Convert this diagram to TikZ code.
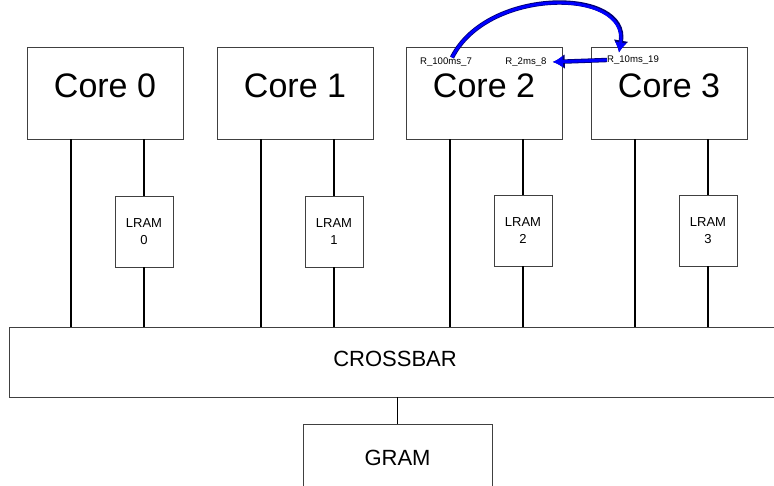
\documentclass[tikz,border=0pt]{standalone}
\usepackage{fontspec}
\setmainfont{Liberation Sans}
\usetikzlibrary{arrows.meta}
\tikzset{
  unit/.style={draw=black!75, line width=0.8pt, inner sep=0pt},
  core/.style={unit, minimum width=156pt, minimum height=92pt, text depth=14pt,
    font=\fontsize{34}{40}\selectfont},
  lram/.style={unit, minimum width=58pt, minimum height=71pt, align=center,
    font=\fontsize{13}{17}\selectfont},
  bus/.style={unit, font=\fontsize{22}{26}\selectfont},
  wire/.style={line width=1.6pt},
  task/.style={inner sep=0pt, font=\fontsize{9.6}{11}\selectfont},
  swap/.style={draw=blue, line width=2.8pt, -{Latex[length=10pt, width=12pt]},
    preaction={draw=black!55!blue, line width=4.4pt, -{Latex[length=12pt, width=15pt]}}}
}
\begin{document}
\begin{tikzpicture}[x=1pt, y=-1pt]
\useasboundingbox (0,0) rectangle (774,486);
% cores
\node[core] (core0) at (105,93) {Core 0};
\node[core] (core1) at (295,93) {Core 1};
\node[core] (core2) at (484,93) {Core 2};
\node[core] (core3) at (669,93) {Core 3};
% local memories
\node[lram] (lram0) at (144,231.5) {LRAM\\0};
\node[lram] (lram1) at (334,231.5) {LRAM\\1};
\node[lram] (lram2) at (523,230.5) {LRAM\\2};
\node[lram] (lram3) at (708,230.5) {LRAM\\3};
% crossbar and global memory
\node[bus, minimum width=772pt, minimum height=70pt, text depth=7pt] (xbar) at (395,362) {CROSSBAR};
\node[bus, minimum width=189pt, minimum height=76pt, text depth=8pt] (gram) at (397.5,462) {GRAM};
% tasks
\node[task] (r100) at (446,62) {R\_100ms\_7};
\node[task] (r2)   at (526,62) {R\_2ms\_8};
\node[task] (r10)  at (633,60) {R\_10ms\_19};
% wires
\foreach \i in {0,...,3} {
  \draw[wire] ([xshift=-34pt]core\i.south) coordinate (a) -- (a |- xbar.north);
  \draw[wire] (lram\i.north |- core\i.south) -- (lram\i.north);
  \draw[wire] (lram\i.south) -- (lram\i.south |- xbar.north);
}
\draw[wire] (gram.north) -- (gram.north |- xbar.south);
% migrations
\draw[swap] ([xshift=6pt]r100.north) .. controls (488,-14) and (630,-12) .. ([xshift=-14pt,yshift=3pt]r10.north);
\draw[swap] (r10.west) -- ([xshift=6pt]r2.east);
\end{tikzpicture}
\end{document}
